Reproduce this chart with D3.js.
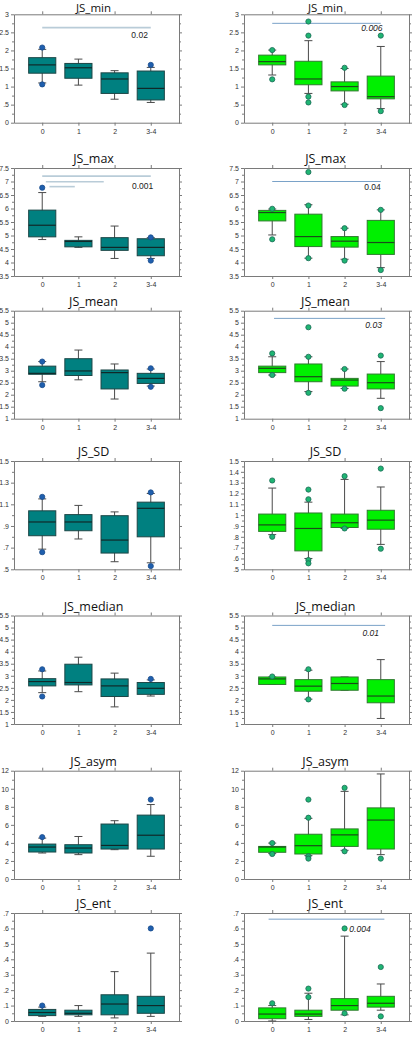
<!DOCTYPE html>
<html><head><meta charset="utf-8">
<script src="https://cdn.jsdelivr.net/npm/d3@7"></script>
<style>body{margin:0;background:#fff}svg{display:block}</style>
</head><body><svg id="c" width="415" height="1037"></svg>
<script>
const categories = ["0","1","2","3-4"];
const titles = ["JS_min","JS_max","JS_mean","JS_SD","JS_median","JS_asym","JS_ent"];

// y tick values
const ticksMin = [0,0.5,1,1.5,2,2.5,3];
const ticksMax = [3.5,4,4.5,5,5.5,6,6.5,7,7.5];
const ticksMean = [1,1.5,2,2.5,3,3.5,4,4.5,5,5.5];
const ticksSDa = [0.5,0.7,0.9,1.1,1.3,1.5];
const ticksSDb = [0.5,0.6,0.7,0.8,0.9,1,1.1,1.2,1.3,1.4,1.5];
const ticksMedian = [1,1.5,2,2.5,3,3.5,4,4.5,5,5.5];
const ticksAsym = [0,2,4,6,8,10,12];
const ticksEnt = [0,0.1,0.2,0.3,0.4,0.5,0.6,0.7];

// box stats per category: [low whisker, q1, median, q3, high whisker]
const minA = [[1.10,1.37,1.60,1.80,2.03],[1.04,1.23,1.52,1.64,1.76],[0.65,0.81,1.21,1.38,1.44],[0.56,0.63,0.95,1.43,1.53]];
const minAOut = [[2.08,1.06],[],[],[1.60]];
const minB = [[1.32,1.60,1.69,1.87,2.01],[0.81,1.05,1.21,1.70,2.27],[0.51,0.88,1.00,1.13,1.50],[0.39,0.66,0.72,1.29,2.11]];
const minBOut = [[2.01,1.20],[2.80,2.41,0.72,0.56],[1.52,0.49],[2.41,0.32]];

const maxA = [[4.85,4.95,5.38,5.94,6.59],[4.56,4.58,4.78,4.82,4.95],[4.15,4.45,4.56,4.92,5.35],[4.15,4.25,4.56,4.88,4.92]];
const maxAOut = [[6.77],[],[],[4.93,4.07]];
const maxB = [[5.02,5.54,5.85,5.93,5.98],[4.16,4.59,4.96,5.79,6.14],[4.12,4.57,4.79,4.96,5.27],[3.81,4.30,4.74,5.56,5.95]];
const maxBOut = [[5.99,4.86],[7.35,6.11,4.16],[5.27,4.07],[5.95,3.72]];

const meanA = [[2.54,2.85,2.89,3.19,3.38],[2.62,2.80,2.99,3.50,3.86],[1.82,2.24,2.92,3.03,3.28],[2.36,2.47,2.68,2.89,3.07]];
const meanAOut = [[3.38,2.40],[],[],[3.10,2.33]];
const meanB = [[2.82,2.92,3.10,3.19,3.58],[2.13,2.54,2.75,3.28,3.58],[2.26,2.36,2.61,2.68,3.07],[1.85,2.24,2.50,2.86,3.38]];
const meanBOut = [[3.72,2.82],[4.81,3.58,2.08],[3.07,2.25],[3.63,1.44]];

const sdA = [[0.686,0.81,0.937,1.04,1.15],[0.78,0.856,0.937,1.005,1.09],[0.57,0.65,0.77,0.995,1.03],[0.56,0.80,1.063,1.12,1.20]];
const sdAOut = [[1.169,0.658],[],[],[1.21,0.53]];
const sdB = [[0.82,0.85,0.91,1.01,1.25],[0.60,0.67,0.877,1.02,1.12],[0.877,0.886,0.93,1.01,1.33],[0.73,0.87,0.954,1.045,1.26]];
const sdBOut = [[1.32,0.80],[1.236,1.147,0.586,0.555],[1.36,0.877],[1.43,0.69]];

const medianA = [[2.30,2.58,2.76,2.88,3.20],[2.34,2.62,2.72,3.48,3.77],[1.71,2.14,2.58,2.87,3.11],[2.16,2.23,2.48,2.72,2.83]];
const medianAOut = [[3.27,2.14],[],[],[2.87]];
const medianB = [[2.64,2.64,2.87,2.95,2.95],[2.03,2.36,2.57,2.84,3.23],[2.40,2.40,2.68,2.95,2.95],[1.23,1.88,2.16,2.84,3.67]];
const medianBOut = [[2.97],[3.27,2.02],[],[]];

const asymA = [[2.88,2.99,3.54,3.87,4.53],[2.70,2.88,3.43,3.80,4.71],[3.25,3.32,3.72,6.09,6.46],[2.52,3.32,4.85,7.08,8.25]];
const asymAOut = [[4.64],[],[],[8.80]];
const asymB = [[2.81,2.96,3.54,3.61,3.98],[2.59,2.77,3.69,4.96,6.72],[3.18,3.61,4.89,5.55,9.71],[2.70,3.32,6.53,7.88,11.64]];
const asymBOut = [[3.98,2.77],[8.80,6.79,2.52,2.26],[10.1,3.07],[2.26]];

const entA = [[0.03,0.035,0.055,0.075,0.09],[0.03,0.04,0.05,0.07,0.10],[0.02,0.04,0.11,0.17,0.32],[0.03,0.05,0.10,0.16,0.44]];
const entAOut = [[0.10],[],[],[0.60]];
const entB = [[0.0,0.015,0.045,0.085,0.10],[0.01,0.03,0.045,0.07,0.18],[0.04,0.07,0.10,0.145,0.55],[0.07,0.09,0.115,0.16,0.24]];
const entBOut = [[0.115],[0.21,0.155],[0.60,0.05],[0.35,0.03]];

// significance annotations: [fromIndex, toIndex, yValue]
const sigMinB = [[0,3,2.75]];
const sigMinA = [[0,3,2.63]];
const sigMaxA = [[0,3,7.2],[0.1,1.7,6.99],[0.2,0.9,6.81]];
const sigMaxB = [[0,3,7.0]];
const sigMeanB = [[0.05,3.12,5.18]];
const sigMedianB = [[0,3.12,5.09]];
const sigEntB = [[-0.1,3.1,0.66]];
// p-value labels: [text, rightIndex, yValue, italic]
const pMinA = ["0.02",2.92,2.35,false];
const pMinB = ["0.006",3.05,2.54,true];
const pMaxA = ["0.001",3.07,6.74,false];
const pMaxB = ["0.04",3.0,6.67,false];
const pMeanB = ["0.03",3.03,4.76,true];
const pMedianB = ["0.01",2.95,4.67,true];
const pEntB = ["0.004",2.72,0.575,true];

// layout (frames of the 14 panels)
const rowTop = [14.3,168,310.7,461,615.5,770.7,913];
const rowBottom = [122.7,276,418.7,569.3,724,879,1021];
const colLeft = [14,244];
const colRight = [179,409];

const panels = [
  {t:0,c:0,dom:[0,3],ticks:ticksMin,box:minA,out:minAOut,sig:sigMinA,p:pMinA},
  {t:0,c:1,dom:[0,3],ticks:ticksMin,box:minB,out:minBOut,sig:sigMinB,p:pMinB},
  {t:1,c:0,dom:[3.5,7.5],ticks:ticksMax,box:maxA,out:maxAOut,sig:sigMaxA,p:pMaxA},
  {t:1,c:1,dom:[3.5,7.5],ticks:ticksMax,box:maxB,out:maxBOut,sig:sigMaxB,p:pMaxB},
  {t:2,c:0,dom:[1,5.5],ticks:ticksMean,box:meanA,out:meanAOut},
  {t:2,c:1,dom:[1,5.5],ticks:ticksMean,box:meanB,out:meanBOut,sig:sigMeanB,p:pMeanB},
  {t:3,c:0,dom:[0.5,1.5],ticks:ticksSDa,box:sdA,out:sdAOut},
  {t:3,c:1,dom:[0.5,1.5],ticks:ticksSDb,box:sdB,out:sdBOut},
  {t:4,c:0,dom:[1,5.5],ticks:ticksMedian,box:medianA,out:medianAOut},
  {t:4,c:1,dom:[1,5.5],ticks:ticksMedian,box:medianB,out:medianBOut,sig:sigMedianB,p:pMedianB},
  {t:5,c:0,dom:[0,12],ticks:ticksAsym,box:asymA,out:asymAOut},
  {t:5,c:1,dom:[0,12],ticks:ticksAsym,box:asymB,out:asymBOut},
  {t:6,c:0,dom:[0,0.7],ticks:ticksEnt,box:entA,out:entAOut},
  {t:6,c:1,dom:[0,0.7],ticks:ticksEnt,box:entB,out:entBOut,sig:sigEntB,p:pEntB}
];

const styles = [
  {fill:"#008080",stroke:"#1c4646",med:"#102828",whisk:"#4a4a4a",dot:"#1f5fae",dotStroke:"#1a4c8c",sig:"#b9ccd8",sigW:1.6},
  {fill:"#00f000",stroke:"#2f7a2f",med:"#1b4a1b",whisk:"#4a4a4a",dot:"#1fb573",dotStroke:"#1c6a55",sig:"#7aa2c8",sigW:1}
];

const fmt = v => { let s = d3.format("")(+v.toFixed(2)); return s.replace(/^0\./,"."); };
const svg = d3.select("#c");

panels.forEach(P => {
  const st = styles[P.c];
  const x0 = colLeft[P.c], x1 = colRight[P.c], y0 = rowTop[P.t], y1 = rowBottom[P.t];
  const x = d3.scalePoint().domain(categories).range([x0,x1]).padding(0.78);
  const y = d3.scaleLinear().domain(P.dom).range([y1,y0]);
  const xi = v => x(categories[0]) + v * x.step();
  const g = svg.append("g");

  // title
  const firstRow = P.t === 0;
  g.append("text").attr("x",(x0+x1)/2 - (P.c===0?3:1)).attr("y",firstRow ? 12.4 : y0-5)
    .attr("text-anchor","middle").attr("font-family","Open Sans, Noto Sans, sans-serif")
    .attr("font-size",firstRow ? 11.5 : 12.5).attr("fill","#111").text(titles[P.t]);

  // minor ticks
  const step = P.ticks[1]-P.ticks[0];
  const minor = d3.range(P.dom[0]+step/2, P.dom[1], step);
  const axColor = "#7a7a7a";
  const styleAxis = sel => { sel.selectAll("path,line").attr("stroke",axColor); sel.selectAll("text").attr("fill","#333").attr("font-size",7).attr("font-family","Liberation Sans, Arial, sans-serif"); };
  g.append("g").attr("transform",`translate(${x0},0)`).call(d3.axisLeft(y).tickValues(minor).tickSize(2).tickFormat("").tickSizeOuter(0)).call(styleAxis);
  g.append("g").attr("transform",`translate(${x1},0)`).call(d3.axisRight(y).tickValues(minor).tickSize(2).tickFormat("").tickSizeOuter(0)).call(styleAxis);
  g.append("g").attr("transform",`translate(${x0},0)`).call(d3.axisLeft(y).tickValues(P.ticks).tickSize(3).tickPadding(2).tickFormat(fmt).tickSizeOuter(0)).call(styleAxis);
  g.append("g").attr("transform",`translate(${x1},0)`).call(d3.axisRight(y).tickValues(P.ticks).tickSize(3).tickFormat("").tickSizeOuter(0)).call(styleAxis);
  g.append("g").attr("transform",`translate(0,${y1})`).call(d3.axisBottom(x).tickSize(3).tickPadding(3).tickSizeOuter(0)).call(styleAxis);
  g.append("g").attr("transform",`translate(0,${y0})`).call(d3.axisTop(x).tickSize(3).tickFormat("").tickSizeOuter(0)).call(styleAxis);

  // significance lines
  (P.sig||[]).forEach(s => {
    g.append("line").attr("x1",xi(s[0])).attr("x2",xi(s[1])).attr("y1",y(s[2])).attr("y2",y(s[2]))
      .attr("stroke",st.sig).attr("stroke-width",st.sigW);
  });

  const bw = x.step()*0.75, cap = 8;
  P.box.forEach((b,i) => {
    const cx = x(categories[i]);
    const gb = g.append("g");
    gb.append("line").attr("x1",cx).attr("x2",cx).attr("y1",y(b[0])).attr("y2",y(b[4])).attr("stroke",st.whisk).attr("stroke-width",1);
    gb.append("line").attr("x1",cx-cap/2).attr("x2",cx+cap/2).attr("y1",y(b[0])).attr("y2",y(b[0])).attr("stroke",st.whisk).attr("stroke-width",1);
    gb.append("line").attr("x1",cx-cap/2).attr("x2",cx+cap/2).attr("y1",y(b[4])).attr("y2",y(b[4])).attr("stroke",st.whisk).attr("stroke-width",1);
    gb.append("rect").attr("x",cx-bw/2).attr("width",bw).attr("y",y(b[3])).attr("height",Math.max(0.5,y(b[1])-y(b[3])))
      .attr("fill",st.fill).attr("stroke",st.stroke).attr("stroke-width",1);
    gb.append("line").attr("x1",cx-bw/2).attr("x2",cx+bw/2).attr("y1",y(b[2])).attr("y2",y(b[2])).attr("stroke",st.med).attr("stroke-width",1.2);
    P.out[i].forEach(o => {
      gb.append("circle").attr("cx",cx).attr("cy",y(o)).attr("r",2.6).attr("fill",st.dot).attr("stroke",st.dotStroke).attr("stroke-width",0.8);
    });
  });

  if (P.p) {
    g.append("text").attr("x",xi(P.p[1])).attr("y",y(P.p[2])).attr("text-anchor","end")
      .attr("font-family","Liberation Sans, Arial, sans-serif").attr("font-size",8.5)
      .attr("font-style",P.p[3]?"italic":"normal").attr("fill","#222").text(P.p[0]);
  }
});
</script></body></html>
